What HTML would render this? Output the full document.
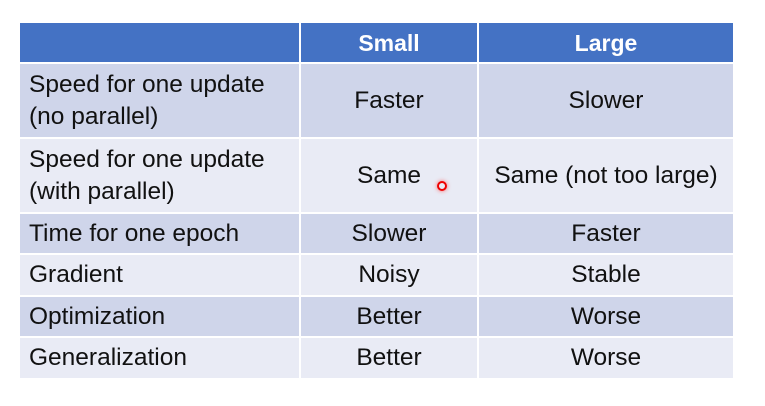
<!DOCTYPE html>
<html><head><style>
body{margin:0;width:765px;height:406px;background:#fff;position:relative;overflow:hidden;font-family:"Liberation Sans",sans-serif;}
.c{position:absolute;box-sizing:border-box;display:flex;align-items:center;font-size:24.5px;color:#111;line-height:32px;white-space:nowrap;}
.l{padding-left:9px;}
.m{justify-content:center;text-align:center;}
.h{background:#4472C4;color:#fff;font-weight:bold;font-size:23px;}
.d{background:#CFD5EA;}
.w{background:#E9EBF5;}
</style></head><body>
<div class="c h" style="left:20px;top:23px;width:279px;height:39px"></div>
<div class="c h m" style="left:301px;top:23px;width:176px;height:39px">Small</div>
<div class="c h m" style="left:479px;top:23px;width:254px;height:39px">Large</div>

<div class="c d l" style="left:20px;top:64px;width:279px;height:73px">Speed for one update<br>(no parallel)</div>
<div class="c d m" style="left:301px;top:64px;width:176px;height:73px">Faster</div>
<div class="c d m" style="left:479px;top:64px;width:254px;height:73px">Slower</div>

<div class="c w l" style="left:20px;top:139px;width:279px;height:73px">Speed for one update<br>(with parallel)</div>
<div class="c w m" style="left:301px;top:139px;width:176px;height:73px">Same</div>
<div class="c w m" style="left:479px;top:139px;width:254px;height:73px">Same (not too large)</div>

<div class="c d l" style="left:20px;top:214px;width:279px;height:39px">Time for one epoch</div>
<div class="c d m" style="left:301px;top:214px;width:176px;height:39px">Slower</div>
<div class="c d m" style="left:479px;top:214px;width:254px;height:39px">Faster</div>

<div class="c w l" style="left:20px;top:255px;width:279px;height:40px">Gradient</div>
<div class="c w m" style="left:301px;top:255px;width:176px;height:40px">Noisy</div>
<div class="c w m" style="left:479px;top:255px;width:254px;height:40px">Stable</div>

<div class="c d l" style="left:20px;top:297px;width:279px;height:39px">Optimization</div>
<div class="c d m" style="left:301px;top:297px;width:176px;height:39px">Better</div>
<div class="c d m" style="left:479px;top:297px;width:254px;height:39px">Worse</div>

<div class="c w l" style="left:20px;top:338px;width:279px;height:40px">Generalization</div>
<div class="c w m" style="left:301px;top:338px;width:176px;height:40px">Better</div>
<div class="c w m" style="left:479px;top:338px;width:254px;height:40px">Worse</div>

<div style="position:absolute;left:437px;top:181px;width:6px;height:6px;border:2px solid #e00;border-radius:50%;box-shadow:0 0 4px #f66;"></div>
</body></html>
